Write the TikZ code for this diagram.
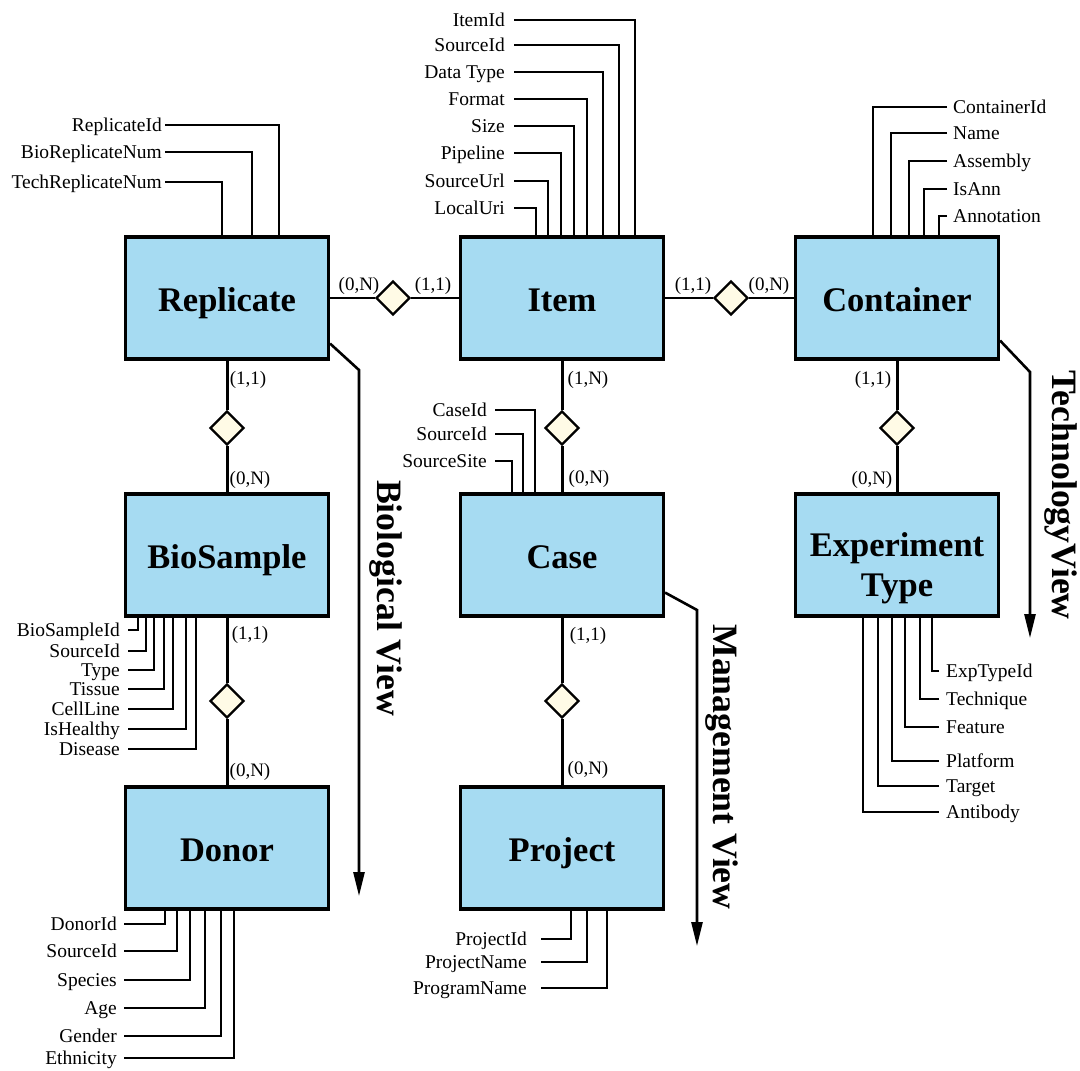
\documentclass[tikz,border=0pt]{standalone}
\usepackage{fontspec}
\setmainfont{Liberation Serif}
\usetikzlibrary{shapes.geometric,arrows.meta}
\definecolor{entfill}{HTML}{A6DBF2}
\definecolor{relfill}{HTML}{FFFBE6}
\begin{document}
\begin{tikzpicture}[x=1pt,y=-1pt,
  entity/.style={draw,line width=3.2pt,fill=entfill,minimum width=203pt,minimum height=122pt,
    inner sep=0,align=center,text height=26pt,text depth=0pt,font=\fontsize{34.5}{40}\selectfont\bfseries},
  title/.style={inner sep=0,align=center,font=\fontsize{34.5}{39.5}\selectfont\bfseries},
  rel/.style={diamond,draw,line width=2.4pt,fill=relfill,minimum width=34pt,minimum height=34pt,inner sep=0},
  card/.style={inner sep=0,font=\fontsize{19}{20}\selectfont},
  attrR/.style={anchor=base east,inner sep=0,yshift=-6.5pt,font=\fontsize{19.5}{20}\selectfont},
  attrL/.style={anchor=base west,inner sep=0,yshift=-6.5pt,font=\fontsize{19.5}{20}\selectfont},
  attrline/.style={line width=1.8pt},
  hline/.style={line width=1.9pt},
  vline/.style={line width=3pt},
  view/.style={line width=2.6pt,-{Triangle[length=24pt,width=11pt]}},
  viewlbl/.style={rotate=-90,inner sep=0,font=\fontsize{35.7}{40}\selectfont\bfseries}
]
\useasboundingbox[fill=white] (0,0) rectangle (1080,1071);

% entities
\node[entity] (Replicate) at (227,298) {Replicate};
\node[entity] (Item)      at (562,298) {Item};
\node[entity] (Container) at (897,298) {Container};
\node[entity] (BioSample) at (227,555) {BioSample};
\node[entity] (Case)      at (562,555) {Case};
\node[entity] (ExpType)   at (897,555) {};
\node[title]  (ExpTitle)  at (897,568) {Experiment\\Type};
\node[entity] (Donor)     at (227,848) {Donor};
\node[entity] (Project)   at (562,848) {Project};

% relationships
\node[rel] (rRI) at (393,298) {};
\node[rel] (rIC) at (731,298) {};
\node[rel] (rRB) at (227,428) {};
\node[rel] (rIS) at (562,428) {};
\node[rel] (rCE) at (897,428) {};
\node[rel] (rBD) at (227,701) {};
\node[rel] (rSP) at (562,701) {};

\draw[hline] (Replicate.east) -- (rRI.west);
\draw[hline] (rRI.east) -- (Item.west);
\draw[hline] (Item.east) -- (rIC.west);
\draw[hline] (rIC.east) -- (Container.west);
\draw[vline] (Replicate.south) -- (rRB.north);
\draw[vline] (rRB.south) -- (BioSample.north);
\draw[vline] (Item.south) -- (rIS.north);
\draw[vline] (rIS.south) -- (Case.north);
\draw[vline] (Container.south) -- (rCE.north);
\draw[vline] (rCE.south) -- (ExpType.north);
\draw[vline] (BioSample.south) -- (rBD.north);
\draw[vline] (rBD.south) -- (Donor.north);
\draw[vline] (Case.south) -- (rSP.north);
\draw[vline] (rSP.south) -- (Project.north);

% cardinalities
\node[card] (c1)  at (359,286) {(0,N)};
\node[card] (c2)  at (433,286) {(1,1)};
\node[card] (c3)  at (693,286) {(1,1)};
\node[card] (c4)  at (769,286) {(0,N)};
\node[card] (c5)  at (248,380) {(1,1)};
\node[card] (c6)  at (250,480) {(0,N)};
\node[card] (c7)  at (588,380) {(1,N)};
\node[card] (c8)  at (589,479) {(0,N)};
\node[card] (c9)  at (873,380) {(1,1)};
\node[card] (c10) at (872,480) {(0,N)};
\node[card] (c11) at (250,635) {(1,1)};
\node[card] (c12) at (250,772) {(0,N)};
\node[card] (c13) at (588,636) {(1,1)};
\node[card] (c14) at (588,770) {(0,N)};

% attributes of Item
\foreach \txt/\yy/\off [count=\i] in {ItemId/20/176, SourceId/45/160, Data Type/72/144,
    Format/99/128, Size/126/115, Pipeline/153/102, SourceUrl/181/89, LocalUri/208/77}{
  \node[attrR] (item-a\i) at (505,\yy) {\txt};
  \draw[attrline] ([xshift=9pt,yshift=6.5pt]item-a\i.base east) -| ([xshift=\off]Item.north west);
}
% attributes of Replicate
\foreach \txt/\yy/\off [count=\i] in {ReplicateId/125/155, BioReplicateNum/152/128, TechReplicateNum/182/98}{
  \node[attrR] (rep-a\i) at (162,\yy) {\txt};
  \draw[attrline] ([xshift=3pt,yshift=6.5pt]rep-a\i.base east) -| ([xshift=\off]Replicate.north west);
}
% attributes of Container
\foreach \txt/\yy/\off [count=\i] in {ContainerId/107/79, Name/133/97, Assembly/161/115, IsAnn/189/130, Annotation/216/145}{
  \node[attrL] (con-a\i) at (953,\yy) {\txt};
  \draw[attrline] ([xshift=-6pt,yshift=6.5pt]con-a\i.base west) -| ([xshift=\off]Container.north west);
}
% attributes of Case
\foreach \txt/\yy/\off [count=\i] in {CaseId/410/76, SourceId/434/64, SourceSite/461/53}{
  \node[attrR] (case-a\i) at (487,\yy) {\txt};
  \draw[attrline] ([xshift=8pt,yshift=6.5pt]case-a\i.base east) -| ([xshift=\off]Case.north west);
}
% attributes of BioSample
\foreach \txt/\yy/\off [count=\i] in {BioSampleId/630/14, SourceId/651/22, Type/670/30, Tissue/689/40,
    CellLine/709/49, IsHealthy/729/62, Disease/749/72}{
  \node[attrR] (bio-a\i) at (120,\yy) {\txt};
  \draw[attrline] ([xshift=8pt,yshift=6.5pt]bio-a\i.base east) -| ([xshift=\off]BioSample.south west);
}
% attributes of Experiment Type
\foreach \txt/\yy/\off [count=\i] in {ExpTypeId/671/138, Technique/699/126, Feature/727/111,
    Platform/761/98, Target/786/84, Antibody/812/69}{
  \node[attrL] (exp-a\i) at (946,\yy) {\txt};
  \draw[attrline] ([xshift=-7pt,yshift=6.5pt]exp-a\i.base west) -| ([xshift=\off]ExpType.south west);
}
% attributes of Donor
\foreach \txt/\yy/\off [count=\i] in {DonorId/924/41, SourceId/951/53, Species/980/66, Age/1008/81,
    Gender/1036/97, Ethnicity/1058/110}{
  \node[attrR] (don-a\i) at (117,\yy) {\txt};
  \draw[attrline] ([xshift=7pt,yshift=6.5pt]don-a\i.base east) -| ([xshift=\off]Donor.south west);
}
% attributes of Project
\foreach \txt/\yy/\off [count=\i] in {ProjectId/939/112, ProjectName/962/128, ProgramName/988/148}{
  \node[attrR] (prj-a\i) at (527,\yy) {\txt};
  \draw[attrline] ([xshift=14pt,yshift=6.5pt]prj-a\i.base east) -| ([xshift=\off]Project.south west);
}

% views
\coordinate (bioBend) at (359,370);
\coordinate (bioEnd)  at (359,896);
\coordinate (mgtBend) at (697,610);
\coordinate (mgtEnd)  at (697,946);
\coordinate (tecBend) at (1030,372);
\coordinate (tecEnd)  at (1030,638);
\draw[view] ([yshift=17pt]Replicate.south east) -- (bioBend) -- (bioEnd);
\draw[view] ([yshift=25pt]Case.south east) -- (mgtBend) -- (mgtEnd);
\draw[view] ([yshift=20pt]Container.south east) -- (tecBend) -- (tecEnd);
\node[viewlbl] (bioLbl) at (386,598) {Biological View};
\node[viewlbl] (mgtLbl) at (722,767) {Management View};
\node[viewlbl] (tecLbl) at (1061,495) {TechnologyView};
\end{tikzpicture}
\end{document}
